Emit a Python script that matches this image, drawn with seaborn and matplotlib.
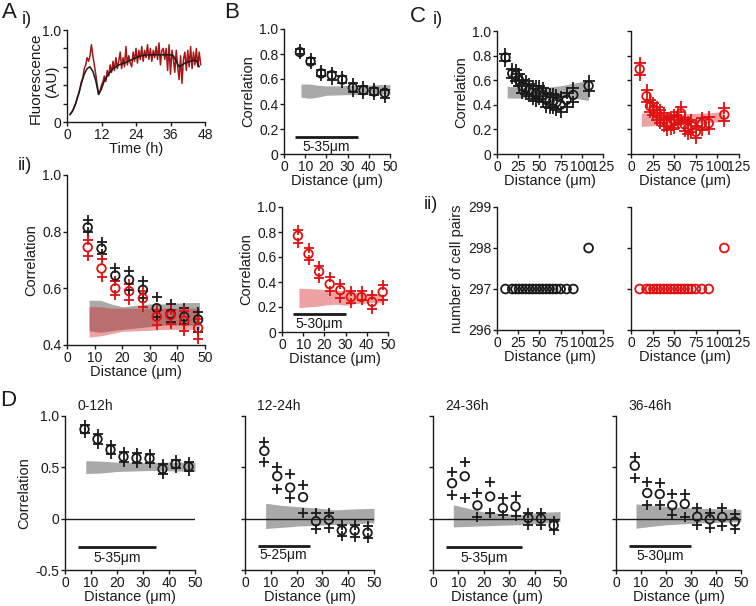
import numpy as np
import pandas as pd
import matplotlib
matplotlib.use("Agg")
import matplotlib.pyplot as plt
import seaborn as sns

# ---------------- data ----------------
# A i) fluorescence traces
time_h = np.arange(1.0, 47.0, 0.5)
fluor_red = [0.08, 0.10, 0.13, 0.16, 0.20, 0.26, 0.30,
             0.36, 0.44, 0.48, 0.58, 0.62, 0.70, 0.66, 0.72,
             0.84, 0.72, 0.62, 0.52, 0.40, 0.30,
             0.34, 0.40, 0.44, 0.50, 0.44, 0.56,
             0.50, 0.62, 0.54, 0.66, 0.56, 0.70, 0.58, 0.66,
             0.76, 0.58, 0.70, 0.60, 0.82, 0.62, 0.72, 0.64,
             0.60, 0.76, 0.66, 0.80, 0.64, 0.78, 0.68, 0.82,
             0.66, 0.78, 0.70, 0.84, 0.68, 0.80, 0.66, 0.78,
             0.70, 0.82, 0.68, 0.86, 0.62, 0.78, 0.80, 0.68,
             0.80, 0.56, 0.84, 0.52, 0.78, 0.68, 0.54, 0.78,
             0.60, 0.46, 0.72, 0.42, 0.68, 0.76, 0.56, 0.78,
             0.60, 0.82, 0.58, 0.76, 0.62, 0.80, 0.60, 0.76, 0.62]
time_smooth = [1, 2, 3, 4, 5, 6, 7, 8, 9, 10, 11, 12, 13, 14, 15, 16, 17, 18, 19, 20,
               22, 24, 26, 28, 30, 32, 34, 36, 37, 38, 39, 40, 41, 42, 43, 44, 45, 46]
fluor_black = [0.08, 0.12, 0.20, 0.30, 0.42, 0.52, 0.58, 0.60, 0.55, 0.45, 0.30, 0.36,
               0.45, 0.50, 0.54, 0.58, 0.60, 0.62, 0.63, 0.64, 0.67, 0.70, 0.72, 0.73,
               0.73, 0.73, 0.73, 0.73, 0.72, 0.66, 0.60, 0.62, 0.64, 0.65, 0.66, 0.67,
               0.67, 0.60]

# distance bins (um)
dist = [7.5, 12.5, 17.5, 22.5, 27.5, 32.5, 37.5, 42.5, 47.5]

# A ii) / B black (all cells)
blk_mean = [0.815, 0.74, 0.645, 0.63, 0.595, 0.53, 0.51, 0.50, 0.49]
blk_up = [0.84, 0.765, 0.67, 0.66, 0.625, 0.57, 0.545, 0.53, 0.515]
blk_lo = [0.80, 0.72, 0.625, 0.595, 0.565, 0.50, 0.48, 0.475, 0.445]
# A ii) red
aii_red_mean = [0.745, 0.67, 0.60, 0.59, 0.565, 0.50, 0.505, 0.485, 0.46]
aii_red_up = [0.77, 0.705, 0.625, 0.615, 0.59, 0.525, 0.525, 0.52, 0.49]
aii_red_lo = [0.715, 0.64, 0.575, 0.56, 0.535, 0.47, 0.475, 0.45, 0.42]
# A ii) shuffled bands
aii_band_x = [8, 12, 16, 20, 25, 30, 35, 40, 45, 48]
aii_gray_hi = [0.558, 0.558, 0.545, 0.535, 0.54, 0.545, 0.545, 0.548, 0.55, 0.55]
aii_gray_lo = [0.45, 0.445, 0.45, 0.455, 0.46, 0.465, 0.47, 0.47, 0.47, 0.47]
aii_pink_hi = [0.535, 0.535, 0.53, 0.53, 0.53, 0.53, 0.53, 0.53, 0.53, 0.53]
aii_pink_lo = [0.428, 0.432, 0.44, 0.448, 0.45, 0.452, 0.455, 0.455, 0.455, 0.455]

# B top band
b_band_x = [8, 12, 16, 20, 25, 30, 35, 40, 45, 50]
b_gray_hi = [0.56, 0.56, 0.55, 0.545, 0.545, 0.548, 0.55, 0.552, 0.555, 0.555]
b_gray_lo = [0.455, 0.445, 0.455, 0.47, 0.472, 0.475, 0.475, 0.478, 0.48, 0.48]
# B bottom red
b_red_mean = [0.77, 0.625, 0.483, 0.383, 0.335, 0.28, 0.28, 0.241, 0.32]
b_red_up = [0.82, 0.676, 0.528, 0.442, 0.383, 0.33, 0.33, 0.295, 0.375]
b_red_lo = [0.716, 0.576, 0.429, 0.33, 0.276, 0.233, 0.255, 0.188, 0.26]
b2_band_x = [8, 12, 16, 20, 25, 30, 35, 40, 45, 48]
b_pink_hi = [0.35, 0.348, 0.345, 0.34, 0.335, 0.33, 0.32, 0.31, 0.305, 0.30]
b_pink_lo = [0.195, 0.20, 0.205, 0.215, 0.222, 0.215, 0.228, 0.232, 0.235, 0.235]

# C) long-range correlation
c_dist = [10, 18, 22, 26, 30, 34, 38, 42, 46, 50, 54, 58, 62, 66, 70, 75, 82, 90, 108]
c_blk = [0.785, 0.655, 0.64, 0.60, 0.55, 0.54, 0.52, 0.50, 0.49, 0.50, 0.48, 0.44,
         0.43, 0.43, 0.42, 0.40, 0.44, 0.48, 0.555]
c_blk_err = [0.03, 0.04, 0.045, 0.05, 0.05, 0.05, 0.05, 0.055, 0.06, 0.055, 0.06, 0.06,
             0.06, 0.06, 0.06, 0.06, 0.06, 0.06, 0.04]
c_red = [0.69, 0.47, 0.39, 0.365, 0.33, 0.305, 0.28, 0.246, 0.25, 0.265, 0.29, 0.33,
         0.24, 0.21, 0.23, 0.18, 0.246, 0.25, 0.32]
c_red_err = [0.05, 0.05, 0.05, 0.05, 0.05, 0.05, 0.05, 0.05, 0.05, 0.05, 0.05, 0.05,
             0.05, 0.05, 0.05, 0.05, 0.05, 0.05, 0.05]
c_band_x = [12, 25, 40, 55, 75, 90, 108]
c_gray_hi = [0.55, 0.545, 0.54, 0.54, 0.555, 0.575, 0.60]
c_gray_lo = [0.455, 0.455, 0.46, 0.465, 0.47, 0.455, 0.435]
c_pink_hi = [0.335, 0.33, 0.325, 0.325, 0.33, 0.335, 0.345]
c_pink_lo = [0.224, 0.23, 0.24, 0.245, 0.25, 0.255, 0.265]
c_pairs = [297, 297, 297, 297, 297, 297, 297, 297, 297, 297, 297, 297, 297, 297,
           297, 297, 297, 297, 298]

# D) time windows
d_titles = ["0-12h", "12-24h", "24-36h", "36-46h"]
d_mean = [[0.871, 0.774, 0.671, 0.603, 0.59, 0.587, 0.484, 0.532, 0.506],
          [0.66, 0.414, 0.303, 0.21, -0.025, -0.01, -0.115, -0.115, -0.137],
          [0.345, 0.413, 0.129, 0.216, 0.103, 0.119, 0.006, 0.0, -0.065],
          [0.516, 0.25, 0.24, 0.131, 0.144, 0.019, -0.006, 0.016, -0.029]]
d_up = [[0.915, 0.82, 0.715, 0.65, 0.635, 0.63, 0.53, 0.575, 0.55],
        [0.745, 0.5, 0.436, 0.33, 0.054, 0.054, -0.057, -0.057, -0.073],
        [0.45, 0.548, 0.25, 0.355, 0.2, 0.219, 0.055, 0.058, -0.026],
        [0.596, 0.362, 0.346, 0.24, 0.24, 0.106, 0.058, 0.106, 0.042]]
d_lo = [[0.83, 0.73, 0.625, 0.555, 0.545, 0.54, 0.435, 0.49, 0.46],
        [0.554, 0.287, 0.204, 0.06, -0.105, -0.09, -0.169, -0.175, -0.19],
        [0.226, 0.206, 0.016, 0.055, 0.032, 0.023, -0.058, -0.058, -0.113],
        [0.40, 0.131, 0.131, 0.035, 0.019, -0.06, -0.087, -0.07, -0.10]]
d_band_x = [8, 14, 20, 27, 35, 42, 50]
d_band_hi = [[0.565, 0.56, 0.55, 0.548, 0.55, 0.55, 0.55],
             [0.15, 0.13, 0.118, 0.105, 0.086, 0.095, 0.10],
             [0.135, 0.10, 0.065, 0.05, 0.04, 0.06, 0.07],
             [0.144, 0.13, 0.12, 0.11, 0.10, 0.095, 0.09]]
d_band_lo = [[0.44, 0.445, 0.46, 0.465, 0.47, 0.465, 0.46],
             [-0.096, -0.085, -0.073, -0.065, -0.057, -0.05, -0.04],
             [-0.08, -0.075, -0.07, -0.064, -0.058, -0.045, -0.03],
             [-0.093, -0.075, -0.06, -0.05, -0.04, -0.035, -0.03]]
# scale bars: (start, end, y of bar, y of text)
d_bars = [(5, 35, -0.28, -0.38), (5, 25, -0.264, -0.35), (5, 35, -0.274, -0.387), (5, 30, -0.263, -0.36)]
b_bars = [(5, 35, 0.136, 0.056), (5, 30, 0.142, 0.062)]

# ---------------- style ----------------
sns.set_theme(style="ticks")
plt.rcParams["font.family"] = ["Liberation Sans", "DejaVu Sans"]
plt.rcParams["axes.linewidth"] = 1.0
plt.rcParams["text.color"] = "k"
plt.rcParams["axes.labelcolor"] = "k"

GRAY = "#a9a9a9"
REDFILL = "#d41a1a"
RED = "#e01010"
W, H = 756, 606
fig = plt.figure(figsize=(W / 100, H / 100), dpi=100)
LBL = 10.5


def make_ax(l, r, t, b):
    return fig.add_axes([l / W, 1 - b / H, (r - l) / W, (b - t) / H])


def style(ax, labelsize=10):
    sns.despine(ax=ax)
    ax.tick_params(direction="out", length=3, width=1, labelsize=labelsize, pad=1,
                   colors="k")
    for s in ("left", "bottom"):
        ax.spines[s].set_color("k")
        ax.spines[s].set_linewidth(1.0)
    ax.grid(False)


def corr_points(ax, x, m, up, lo, color, s_circ=38, s_plus=55):
    sns.scatterplot(x=list(x) + list(x), y=list(up) + list(lo), marker="+", s=s_plus,
                    color=color, linewidth=1.3, ax=ax, zorder=3, legend=False)
    sns.scatterplot(x=list(x), y=list(m), marker="o", s=s_circ, facecolors="none",
                    edgecolor=color, linewidth=1.3, ax=ax, zorder=4, legend=False)


def scale_bar(ax, bar, label):
    x0, x1, yb, yt = bar
    ax.plot([x0, x1], [yb, yb], color="k", lw=2, solid_capstyle="butt", zorder=5)
    ax.text((x0 + x1) / 2, yt, label, ha="center", va="center", fontsize=10)


def ftext(x, y, s, size, **kw):
    fig.text(x / W, 1 - y / H, s, fontsize=size, ha="center", va="center", **kw)


dist_label = "Distance (μm)"

# ---- A i ----
ax = make_ax(67, 205, 30, 122)
sns.lineplot(x=time_h, y=fluor_red, color="#a51616", lw=1.1, ax=ax, estimator=None, legend=False)
sns.lineplot(x=time_smooth, y=fluor_black, color="k", lw=1.1, ax=ax, estimator=None, legend=False)
ax.set_xlim(0, 48)
ax.set_ylim(0, 1.0)
ax.set_xticks([0, 12, 24, 36, 48])
ax.set_yticks([0, 0.2, 0.4, 0.6, 0.8, 1.0])
ax.set_yticklabels(["0", "", "", "", "", "1.0"])
ax.set_xlabel("Time (h)", fontsize=LBL, labelpad=0)
ax.set_ylabel("")
style(ax)
ftext(36, 78, "Fluorescence", 11, rotation=90)
ftext(52, 81, "(AU)", 11, rotation=90)

# ---- A ii ----
ax = make_ax(67, 205, 175, 345)
ax.fill_between(aii_band_x, aii_gray_lo, aii_gray_hi, color=GRAY, lw=0, zorder=1)
ax.fill_between(aii_band_x, aii_pink_lo, aii_pink_hi, color=REDFILL, alpha=0.4, lw=0, zorder=1.5)
corr_points(ax, dist, blk_mean, blk_up, blk_lo, "k")
corr_points(ax, dist, aii_red_mean, aii_red_up, aii_red_lo, RED)
ax.set_xlim(0, 50)
ax.set_ylim(0.4, 1.0)
ax.set_xticks([0, 10, 20, 30, 40, 50])
ax.set_yticks([0.4, 0.6, 0.8, 1.0])
ax.set_yticklabels(["0.4", "0.6", "0.8", "1.0"])
ax.set_xlabel(dist_label, fontsize=LBL, labelpad=0)
ax.set_ylabel("Correlation", fontsize=LBL, labelpad=3)
style(ax)

# ---- B top ----
ax = make_ax(284, 390, 29, 154)
ax.fill_between(b_band_x, b_gray_lo, b_gray_hi, color=GRAY, lw=0, zorder=1)
corr_points(ax, dist, blk_mean, blk_up, blk_lo, "k")
scale_bar(ax, b_bars[0], "5-35μm")
ax.set_xlim(0, 50)
ax.set_ylim(0, 1.0)
ax.set_xticks([0, 10, 20, 30, 40, 50])
ax.set_yticks([0, 0.2, 0.4, 0.6, 0.8, 1.0])
ax.set_yticklabels(["0", "0.2", "0.4", "0.6", "0.8", "1.0"])
ax.set_xlabel(dist_label, fontsize=LBL, labelpad=0)
ax.set_ylabel("Correlation", fontsize=LBL, labelpad=3)
style(ax)

# ---- B bottom ----
ax = make_ax(282, 388, 207, 332)
ax.fill_between(b2_band_x, b_pink_lo, b_pink_hi, color=REDFILL, alpha=0.4, lw=0, zorder=1)
corr_points(ax, dist, b_red_mean, b_red_up, b_red_lo, RED)
scale_bar(ax, b_bars[1], "5-30μm")
ax.set_xlim(0, 50)
ax.set_ylim(0, 1.0)
ax.set_xticks([0, 10, 20, 30, 40, 50])
ax.set_yticks([0, 0.2, 0.4, 0.6, 0.8, 1.0])
ax.set_yticklabels(["0", "0.2", "0.4", "0.6", "0.8", "1.0"])
ax.set_xlabel(dist_label, fontsize=LBL, labelpad=0)
ax.set_ylabel("Correlation", fontsize=LBL, labelpad=3)
style(ax)

# ---- C i / ii ----
c_up_b = [m + e for m, e in zip(c_blk, c_blk_err)]
c_lo_b = [m - e for m, e in zip(c_blk, c_blk_err)]
c_up_r = [m + e for m, e in zip(c_red, c_red_err)]
c_lo_r = [m - e for m, e in zip(c_red, c_red_err)]
for col, (l, r) in enumerate([(497, 603), (631, 739)]):
    ax = make_ax(l, r, 31, 154)
    if col == 0:
        ax.fill_between(c_band_x, c_gray_lo, c_gray_hi, color=GRAY, lw=0, zorder=1)
        corr_points(ax, c_dist, c_blk, c_up_b, c_lo_b, "k", s_plus=70)
    else:
        ax.fill_between(c_band_x, c_pink_lo, c_pink_hi, color=REDFILL, alpha=0.4, lw=0, zorder=1)
        corr_points(ax, c_dist, c_red, c_up_r, c_lo_r, RED, s_plus=70)
    ax.set_xlim(0, 125)
    ax.set_ylim(0, 1.0)
    ax.set_xticks([0, 25, 50, 75, 100, 125])
    ax.set_yticks([0, 0.2, 0.4, 0.6, 0.8, 1.0])
    if col == 0:
        ax.set_yticklabels(["0", "0.2", "0.4", "0.6", "0.8", "1.0"])
        ax.set_ylabel("Correlation", fontsize=LBL, labelpad=3)
    else:
        ax.set_yticklabels([])
    ax.set_xlabel(dist_label, fontsize=LBL, labelpad=0)
    style(ax)

    ax = make_ax(l, r, 207, 330)
    color = "k" if col == 0 else RED
    sns.scatterplot(x=c_dist, y=c_pairs, marker="o", s=40, facecolors="none",
                    edgecolor=color, linewidth=1.3, ax=ax, legend=False, zorder=3)
    ax.set_xlim(0, 125)
    ax.set_ylim(296, 299)
    ax.set_xticks([0, 25, 50, 75, 100, 125])
    ax.set_yticks([296, 297, 298, 299])
    if col == 0:
        ax.set_yticklabels(["296", "297", "298", "299"])
        ax.set_ylabel("number of cell pairs", fontsize=LBL, labelpad=3)
    else:
        ax.set_yticklabels([])
    ax.set_xlabel(dist_label, fontsize=LBL, labelpad=0)
    style(ax)

# ---- D ----
d_pos = [(65, 195), (245, 374), (433, 560), (616, 741)]
for i, (l, r) in enumerate(d_pos):
    ax = make_ax(l, r, 416, 570)
    ax.fill_between(d_band_x, d_band_lo[i], d_band_hi[i], color=GRAY, lw=0, zorder=1)
    ax.axhline(0, color="k", lw=1.0, zorder=2)
    corr_points(ax, dist, d_mean[i], d_up[i], d_lo[i], "k")
    x0, x1 = d_bars[i][0], d_bars[i][1]
    scale_bar(ax, d_bars[i], "%d-%dμm" % (x0, x1))
    ax.set_xlim(0, 50)
    ax.set_ylim(-0.5, 1.0)
    ax.set_xticks([0, 10, 20, 30, 40, 50])
    ax.set_yticks([-0.5, 0, 0.5, 1.0])
    if i == 0:
        ax.set_yticklabels(["-0.5", "0", "0.5", "1.0"])
        ax.set_ylabel("Correlation", fontsize=LBL, labelpad=3)
    else:
        ax.set_yticklabels([])
    ax.set_xlabel(dist_label, fontsize=LBL, labelpad=0)
    style(ax)
    fig.text((l + 12) / W, 1 - 406 / H, d_titles[i], fontsize=10, ha="left", va="center")

# ---- panel letters ----
ftext(9, 13, "A", 16)
ftext(27, 19, "i)", 13)
ftext(25, 166, "ii)", 13)
ftext(232, 13, "B", 16)
ftext(418, 16, "C", 16)
ftext(438, 20, "i)", 13)
ftext(431, 205, "ii)", 13)
ftext(8, 400, "D", 16)

fig.savefig("out.png", dpi=100, facecolor="white")
